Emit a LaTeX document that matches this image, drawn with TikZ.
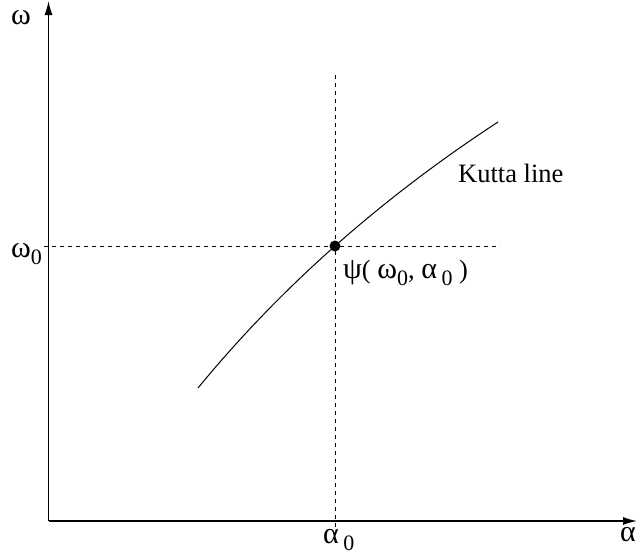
\documentclass[tikz,border=0pt]{standalone}
\usepackage{fontspec}
\setmainfont{Liberation Serif}
\usetikzlibrary{arrows.meta}
\newcommand{\gk}[1]{{\fontsize{30}{32}\selectfont #1}}
\newcommand{\zsub}{\raisebox{-7pt}{\fontsize{22}{24}\selectfont 0}}
\begin{document}
\begin{tikzpicture}[x=1pt,y=-1pt,
  axis/.style={line width=1.2pt,-{Latex[length=14pt,width=8pt]}},
  guide/.style={line width=0.8pt,dash pattern=on 4pt off 4pt},
  curveline/.style={line width=1pt},
  lbl/.style={inner sep=0pt,font=\fontsize{26.5}{30}\selectfont}]
\useasboundingbox (0,0) rectangle (638,560);
\coordinate (O) at (48.5,521);
\coordinate (ytop) at (48.5,1);
\coordinate (xend) at (637,521);
\draw[axis] (O) -- (ytop);
\draw[axis] (O) -- (xend);
\coordinate (hs) at (44,246);
\coordinate (he) at (500,246);
\coordinate (vs) at (335,75);
\coordinate (ve) at (335,527);
\draw[guide] (hs) -- (he);
\draw[guide] (vs) -- (ve);
\coordinate (c0) at (198,388);
\coordinate (c1) at (498,122);
\draw[curveline] (c0) .. controls (280.7,287.3) and (380.7,198.7) .. (c1);
\node[circle,fill=black,inner sep=0pt,minimum size=11pt] (pt) at (335,246) {};
\node[lbl,anchor=base west] (lw) at (11,24) {\gk{ω}};
\node[lbl,anchor=base west] (la) at (620,541) {\gk{α}};
\node[lbl,anchor=base west] (lw0) at (11,257) {\gk{ω}\zsub};
\node[lbl,anchor=base west] (la0) at (323,543) {\gk{α}\,\zsub};
\node[lbl,anchor=base west] (kl) at (458,182) {Kutta line};
\node[lbl,anchor=base west] (psi) at (343,278) {\gk{ψ}( \gk{ω}\zsub, \gk{α}\,\zsub\ )};
\end{tikzpicture}
\end{document}
